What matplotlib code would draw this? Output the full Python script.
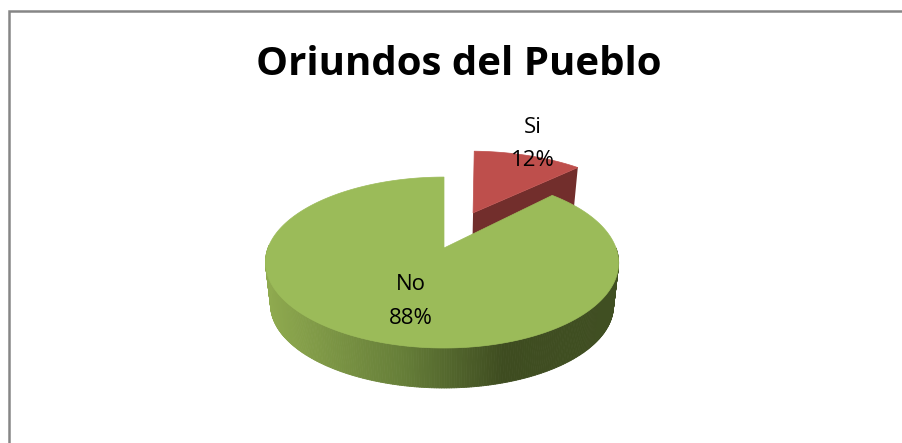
import numpy as np
import matplotlib
matplotlib.use("Agg")
import matplotlib.pyplot as plt
from matplotlib.collections import PolyCollection
from matplotlib.colors import LinearSegmentedColormap
from matplotlib.patches import Polygon, Rectangle

labels = ["Si", "No"]
values = [12, 88]
title = "Oriundos del Pueblo"

W, H = 903, 443
# pie geometry in image pixels, perspective projection of a flat disc
apex = (444, 248)
apexLow = (444, 291)
radX, radY = 174, 83
radXLow, radYLow = 169, 80.5
persp = 0.17
explode = 0.49
siTurn = 2
siGrow = 1.06
siLift = 5
noTurn = 1.5


def project(u, v, top=True):
    w = 1 + persp * v
    lean = -2 * u ** 2
    if top:
        return apex[0] + radX * u / w + lean, apex[1] - radY * v / w
    return apexLow[0] + radXLow * u / w + lean, apexLow[1] - radYLow * v / w


def arc(start, stop, off=(0, 0), top=True, n=120, grow=1):
    # angles are clockwise from 12 o'clock, in degrees
    t = np.radians(np.linspace(start, stop, n))
    return np.column_stack(project(grow * np.sin(t) + off[0], np.cos(t) + off[1], top))


fig = plt.figure(figsize=(W / 100, H / 100), dpi=100)
ax = fig.add_axes([0, 0, 1, 1])
ax.set_xlim(0, W)
ax.set_ylim(H, 0)
ax.axis("off")

ax.add_patch(Rectangle((9.2, 11.2), W + 20, H + 20, fc="white", ec="#868686", lw=1.8))

siStop = 360 * values[0] / sum(values)
mid = np.radians(siStop / 2)
off = (explode * np.sin(mid), explode * np.cos(mid))

# red slice: cut face, then top
corner = np.radians(siStop + siTurn)
cu, cv = siGrow * np.sin(corner) + off[0], np.cos(corner) + off[1]
lowA = project(cu, cv, False)
lowB = project(*off, False)
cutFace = [project(*off), project(cu, cv), (lowA[0], lowA[1] - siLift), (lowB[0], lowB[1] - siLift)]
ax.add_patch(Polygon(cutFace, fc="#722E2C", ec="none", zorder=2))
siTop = np.vstack([[project(*off)], arc(siTurn, siStop + siTurn, off, grow=siGrow)])
ax.add_patch(Polygon(siTop, fc="#BE4F4C", ec="#BE4F4C", lw=0.5, zorder=3))

# green slice: shaded rim, then top
rimCmap = LinearSegmentedColormap.from_list(
    "rim", [(0, "#8FAA4F"), (0.4, "#657D38"), (0.68, "#3E4C20"), (1, "#404F22")])
top = arc(90, 272, n=260)
low = arc(90, 272, top=False, n=260)
quads = [[top[i], top[i + 1], low[i + 1], low[i]] for i in range(len(top) - 1)]
xs = (top[:-1, 0] - 265) / 353
rim = PolyCollection(quads, facecolors=rimCmap(xs), edgecolors=rimCmap(xs), linewidths=0.6, zorder=4)
ax.add_collection(rim)
noTop = np.vstack([[project(0, 0)], arc(siStop + noTurn, 360, n=360)])
ax.add_patch(Polygon(noTop, fc="#9BBB59", ec="#9BBB59", lw=0.5, zorder=5))

font = "Open Sans"
ax.text(459, 64, title, ha="center", va="center", family=font, weight="bold", fontsize=29, color="black", zorder=6)
ax.text(533, 127, labels[0], ha="center", va="center", family=font, fontsize=16, color="black", zorder=6)
ax.text(533, 160, f"{values[0]}%", ha="center", va="center", family=font, fontsize=16, color="black", zorder=6)
ax.text(411, 285, labels[1], ha="center", va="center", family=font, fontsize=16, color="black", zorder=6)
ax.text(411, 318, f"{values[1]}%", ha="center", va="center", family=font, fontsize=16, color="black", zorder=6)

fig.savefig("out.png", dpi=100)
